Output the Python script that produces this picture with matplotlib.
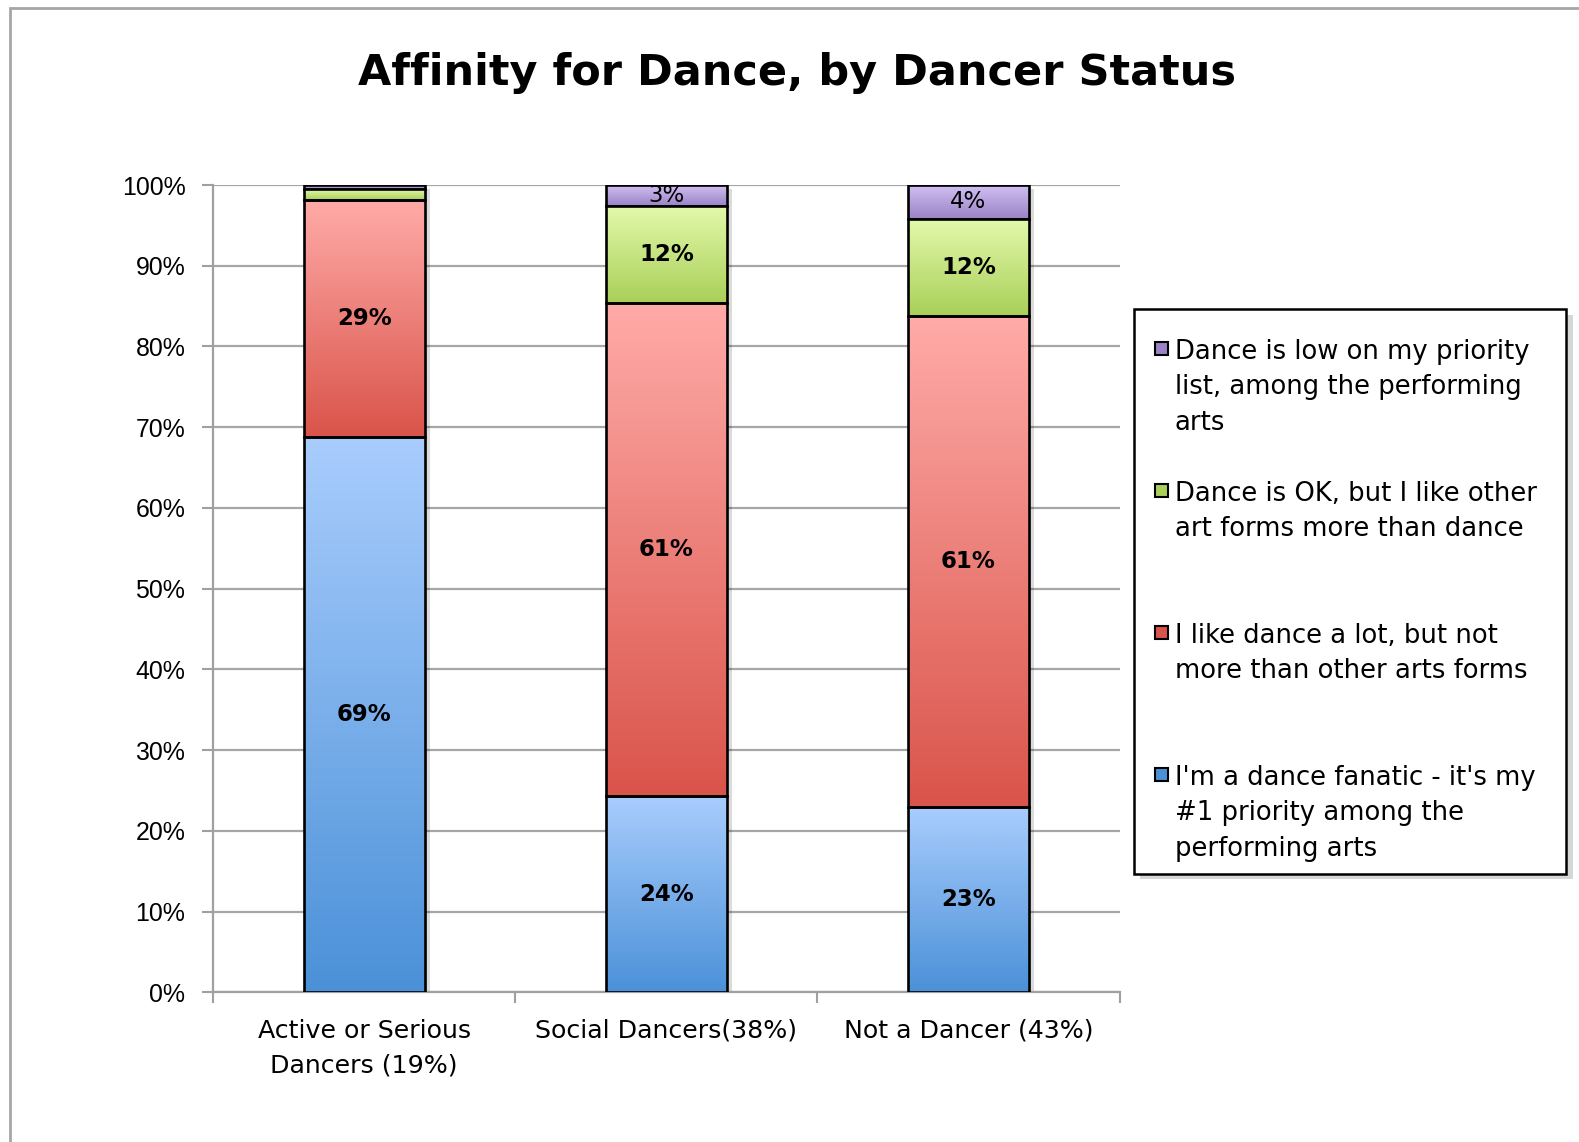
import matplotlib
matplotlib.use('Agg')
import matplotlib.pyplot as plt
import matplotlib.patheffects as pe
from matplotlib.patches import Rectangle
from matplotlib.colors import LinearSegmentedColormap
import numpy as np

# dados (% de respondentes em cada grupo)
groups = ['Active or Serious\nDancers (19%)', 'Social Dancers(38%)', 'Not a Dancer (43%)']
fanatic = [68.8, 24.3, 23.0]
like_lot = [29.4, 61.1, 60.8]
ok_other = [1.3, 12.0, 12.0]
low_priority = [0.5, 2.6, 4.2]

series = [fanatic, like_lot, ok_other, low_priority]
series_names = [
    "I'm a dance fanatic - it's my\n#1 priority among the\nperforming arts",
    "I like dance a lot, but not\nmore than other arts forms",
    "Dance is OK, but I like other\nart forms more than dance",
    "Dance is low on my priority\nlist, among the performing\narts",
]
# (cor clara no topo, cor escura embaixo)
grad_cores = [('#a9cdfd', '#4b91d8'),
              ('#ffaba8', '#d9544a'),
              ('#e3f9ab', '#a9cf58'),
              ('#d0c0f2', '#9a82c6')]
label_bold = [True, True, True, False]

fig = plt.figure(figsize=(15.79, 11.42), dpi=100)
ax = fig.add_axes([0.135, 0.131, 0.574, 0.707])

x = np.arange(len(groups))
largura = 0.4
base = np.zeros(len(groups))
grad = np.linspace(0, 1, 256).reshape(-1, 1)

for k, vals in enumerate(series):
    vals = np.array(vals)
    cmap = LinearSegmentedColormap.from_list('g%d' % k, [grad_cores[k][1], grad_cores[k][0]])
    # sombra
    ax.bar(x, vals, largura, bottom=base, color='black', zorder=1,
           path_effects=[pe.SimplePatchShadow(offset=(4, -3), shadow_rgbFace='black', alpha=0.14)])
    bars = ax.bar(x, vals, largura, bottom=base, facecolor='none', edgecolor='black',
                  linewidth=1.9, zorder=4 if k < 3 else 2.6)
    for i, b in enumerate(bars):
        im = ax.imshow(grad, cmap=cmap, origin='lower', aspect='auto', interpolation='bilinear',
                       extent=[x[i] - largura / 2, x[i] + largura / 2, base[i], base[i] + vals[i]],
                       zorder=3 if k < 3 else 2.4)
        im.set_clip_path(b)
        if vals[i] >= 2:
            ax.text(x[i], base[i] + vals[i] / 2, '%d%%' % round(vals[i]), ha='center', va='center',
                    fontsize=16.5, fontweight='bold' if label_bold[k] else 'normal',
                    color='black', zorder=2.5 if k == 3 else 5)
    base = base + vals

ax.set_xlim(-0.5, 2.5)
ax.set_ylim(0, 100)
ax.set_yticks(np.arange(0, 101, 10))
ax.set_yticklabels(['%d%%' % v for v in range(0, 101, 10)], fontsize=17.9, family='Liberation Sans')
ax.set_xticks(x)
ax.set_xticklabels(groups, fontsize=18.2, linespacing=1.56)
ax.set_xticks([-0.5, 0.5, 1.5, 2.5], minor=True)
ax.tick_params(axis='x', which='major', length=0, pad=19)
ax.tick_params(axis='x', which='minor', length=8, width=1.5, color='#a0a0a0', direction='out')
ax.tick_params(axis='y', length=8, width=1.5, color='#a0a0a0', direction='out', pad=12)
ax.yaxis.grid(True, color='#a6a6a6', linewidth=1.6)
ax.set_axisbelow(True)
for s in ['top', 'right']:
    ax.spines[s].set_visible(False)
for s in ['left', 'bottom']:
    ax.spines[s].set_color('#a0a0a0')
    ax.spines[s].set_linewidth(1.6)

fig.text(0.505, 0.936, 'Affinity for Dance, by Dancer Status', ha='center', va='center',
         fontsize=31, fontweight='bold')

# legenda desenhada à mão (itens com mesma altura)
lx0, lx1, ly0, ly1 = 0.718, 0.992, 0.235, 0.729
fig.patches.append(Rectangle((lx0 + 0.004, ly0 - 0.005), lx1 - lx0, ly1 - ly0, transform=fig.transFigure,
                             facecolor='#bbbbbb', edgecolor='none', alpha=0.6, zorder=1))
fig.patches.append(Rectangle((lx0, ly0), lx1 - lx0, ly1 - ly0, transform=fig.transFigure,
                             facecolor='white', edgecolor='black', linewidth=1.8, zorder=2))
topo = 1 - 339 / 1142
passo = 142 / 1142
for j, k in enumerate([3, 2, 1, 0]):
    yt = topo - j * passo
    fig.patches.append(Rectangle((1155 / 1579, yt - 16 / 1142), 13 / 1579, 13 / 1142,
                                 transform=fig.transFigure, facecolor=grad_cores[k][1],
                                 edgecolor='black', linewidth=1.5, zorder=3))
    fig.text(1175 / 1579, yt, series_names[k], ha='left', va='top', fontsize=18.6,
             linespacing=1.47, zorder=4)

# moldura externa
fig.patches.append(Rectangle((10 / 1579, -0.05), 1.2, 1.05 - 8 / 1142, transform=fig.transFigure,
                             fill=False, edgecolor='#a6a6a6', linewidth=2))

fig.savefig('out.png', dpi=100)
